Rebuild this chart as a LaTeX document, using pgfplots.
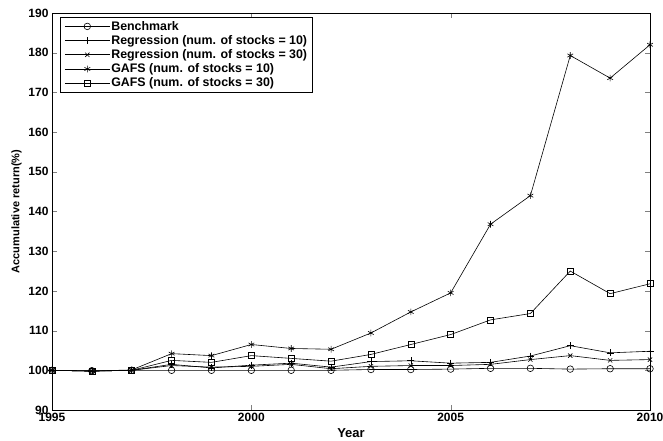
\documentclass[border=0pt]{standalone}
\usepackage{fontspec}
\setmainfont{Liberation Sans}
\usepackage{pgfplots}
\pgfplotsset{compat=1.18}
\begin{document}
\begin{tikzpicture}[x=1pt,y=1pt]
\useasboundingbox (-52,-30) rectangle (611,410);
\begin{axis}[
  scale only axis, width=598pt, height=397pt,
  xmin=1995, xmax=2010, ymin=90, ymax=190,
  xtick={1995,2000,2005,2010}, ytick={90,100,...,190},
  /pgf/number format/assume math mode=true,
  /pgf/number format/1000 sep={},
  tick label style={font=\fontsize{12}{12}\selectfont\bfseries},
  tick align=inside, major tick length=5pt,
  axis line style={line width=0.8pt},
  xlabel={Year}, ylabel={Accumulative return(\%)},
  xlabel style={font=\fontsize{13}{13}\selectfont\bfseries, at={(axis description cs:0.5,0)}, anchor=north, yshift=-15pt},
  ylabel style={font=\fontsize{11}{11}\selectfont\bfseries},
  every axis plot/.append style={black, line width=0.6pt, mark options={solid, line width=0.6pt}},
  legend style={at={(rel axis cs:0.0134,0.99)}, anchor=north west, draw=black, line width=1pt,
     font=\fontsize{12.4}{13}\selectfont\bfseries, row sep=1.3pt, inner xsep=4pt, inner ysep=2.5pt, nodes={inner sep=1.2pt}},
  legend cell align=left,
  legend image code/.code={\draw[mark repeat=2,mark phase=2,#1,line width=0.6pt] plot coordinates {(0pt,0pt) (22.5pt,0pt) (45pt,0pt)};},
]
\addplot[mark=o, mark size=3.3pt] coordinates {(1995,100) (1996,99.9) (1997,100) (1998,100) (1999,100) (2000,100) (2001,100) (2002,100) (2003,100.2) (2004,100.2) (2005,100.3) (2006,100.5) (2007,100.5) (2008,100.3) (2009,100.4) (2010,100.4)};
\addplot[mark=+, mark size=3.5pt] coordinates {(1995,100) (1996,99.8) (1997,100) (1998,101.5) (1999,100.6) (2000,101.3) (2001,101.8) (2002,100.8) (2003,102.2) (2004,102.4) (2005,101.8) (2006,102) (2007,103.6) (2008,106.2) (2009,104.4) (2010,104.8)};
\addplot[mark=x, mark size=3pt] coordinates {(1995,100) (1996,99.8) (1997,100) (1998,101.2) (1999,100.8) (2000,101) (2001,101.5) (2002,100.4) (2003,101) (2004,101.2) (2005,101.2) (2006,101.5) (2007,102.7) (2008,103.7) (2009,102.5) (2010,102.7)};
\addplot[mark=asterisk, mark size=3.3pt] coordinates {(1995,100) (1996,99.8) (1997,100.1) (1998,104.2) (1999,103.7) (2000,106.5) (2001,105.5) (2002,105.3) (2003,109.4) (2004,114.7) (2005,119.5) (2006,136.8) (2007,144) (2008,179.3) (2009,173.6) (2010,182)};
\addplot[mark=square, mark size=3pt] coordinates {(1995,100) (1996,99.8) (1997,100) (1998,102.5) (1999,102) (2000,103.7) (2001,103) (2002,102.3) (2003,104) (2004,106.5) (2005,109) (2006,112.7) (2007,114.3) (2008,125) (2009,119.3) (2010,121.8)};
\legend{Benchmark, Regression (num. of stocks = 10), Regression (num. of stocks = 30), GAFS (num. of stocks = 10), GAFS (num. of stocks = 30)}
\end{axis}
\end{tikzpicture}
\end{document}
